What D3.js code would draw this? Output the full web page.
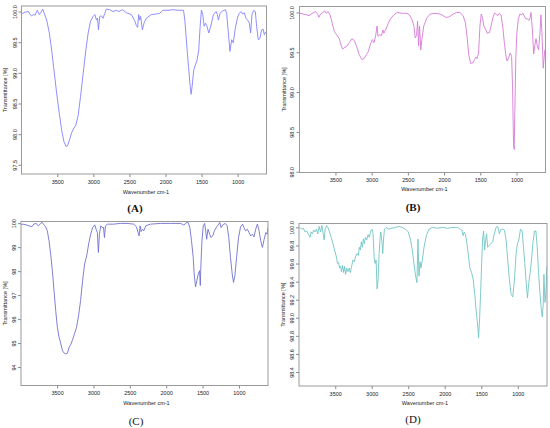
<!DOCTYPE html>
<html>
<head>
<meta charset="utf-8">
<script src="https://cdn.jsdelivr.net/npm/d3@7"></script>
<style>
  body { margin: 0; background: #fff; }
  svg text { font-family: "Liberation Sans", Arial, sans-serif; }
  svg text.caption { font-family: "Liberation Serif", "Times New Roman", serif; }
</style>
</head>
<body>
<div id="chart"></div>
<script>
// Spectrum data: wavenumber (cm-1) and transmittance (%)
var aWave = [3993,3947,3900,3877,3855,3831,3808,3776,3749,3730,3703,3680,3647,3610,3578,3546,3509,3472,3440,3408,3380,3357,3325,3302,3270,3242,3210,3178,3141,3104,3072,3040,3003,2980,2957,2943,2929,2911,2888,2865,2842,2819,2773,2727,2680,2644,2598,2542,2473,2427,2404,2386,2372,2358,2344,2321,2298,2266,2197,2128,2082,2036,1967,1898,1829,1750,1732,1704,1681,1658,1645,1631,1608,1585,1562,1539,1520,1502,1483,1465,1446,1428,1400,1368,1336,1299,1281,1267,1244,1207,1170,1152,1129,1106,1083,1060,1032,1000,977,954,931,908,884,861,838,820,801,778,755,737,714,691,668,645,631,610];
var aTrans = [99.96,99.99,100.0,99.95,99.93,99.95,99.94,100.02,99.95,99.98,100.04,99.97,99.86,99.65,99.37,99.05,98.67,98.34,98.07,97.88,97.80,97.81,97.93,98.02,98.10,98.15,98.31,98.61,98.99,99.37,99.65,99.84,99.92,99.95,99.86,99.89,99.70,99.92,99.93,99.89,99.97,100.04,100.03,100.0,100.02,100.0,100.03,99.98,99.95,99.85,99.77,99.74,99.95,99.86,99.92,99.70,99.81,99.89,99.95,99.96,99.97,100.02,100.02,100.03,100.02,100.02,99.86,99.43,99.10,98.78,98.65,98.78,99.05,99.13,99.21,99.37,99.76,100.02,99.95,99.76,99.81,99.77,99.65,99.78,99.95,100.0,99.95,99.86,99.97,100.01,100.03,99.97,99.65,99.35,99.54,99.49,99.73,99.91,99.97,100.0,99.96,99.98,99.89,99.86,99.81,99.65,99.95,100.02,100.0,99.76,99.54,99.56,99.70,99.71,99.62,99.67];

var bWave = [3990,3947,3901,3865,3820,3774,3747,3728,3706,3674,3646,3628,3601,3574,3546,3514,3483,3446,3419,3400,3378,3346,3309,3273,3241,3209,3172,3136,3104,3072,3045,3018,2990,2968,2944,2926,2913,2890,2863,2845,2831,2808,2772,2740,2694,2648,2580,2512,2480,2443,2416,2398,2380,2366,2352,2339,2321,2307,2280,2239,2193,2125,2056,2011,1979,1943,1906,1874,1829,1783,1738,1706,1683,1660,1633,1601,1578,1560,1546,1524,1505,1487,1469,1451,1428,1405,1373,1351,1328,1305,1278,1260,1237,1214,1191,1168,1146,1132,1109,1087,1068,1055,1041,1032,1023,1009,995,977,954,932,913,895,872,850,827,813,800,781,763,745,731,713,695,677,663,649,631,610];
var bTrans = [99.99,99.98,99.97,99.96,99.99,100.01,99.98,99.94,99.98,100.0,100.02,99.99,100.01,99.97,99.87,99.76,99.72,99.67,99.58,99.54,99.56,99.57,99.62,99.67,99.65,99.58,99.47,99.41,99.42,99.47,99.51,99.60,99.66,99.62,99.71,99.83,99.70,99.72,99.71,99.78,99.74,99.78,99.86,99.92,99.97,100.0,99.99,99.99,99.97,99.91,99.83,99.68,99.71,99.89,99.58,99.83,99.53,99.66,99.83,99.93,99.98,99.99,99.98,99.96,99.94,99.94,99.96,99.98,100.0,100.0,99.96,99.87,99.70,99.47,99.36,99.37,99.41,99.44,99.42,99.49,99.83,99.98,99.93,99.83,99.79,99.74,99.75,99.83,99.93,99.99,99.98,99.96,99.99,99.97,99.83,99.62,99.45,99.39,99.43,99.49,99.45,99.08,98.33,98.28,98.78,99.45,99.74,99.91,99.98,99.97,99.99,99.96,99.92,99.92,99.90,99.93,100.0,99.78,99.48,99.60,99.67,99.58,99.53,99.74,99.97,99.74,99.30,99.53];

var cWave = [3996,3971,3925,3879,3847,3819,3787,3759,3731,3708,3680,3657,3634,3611,3588,3565,3542,3519,3496,3473,3449,3426,3403,3380,3357,3334,3311,3287,3260,3232,3204,3177,3149,3121,3093,3066,3038,3010,2982,2964,2946,2932,2918,2899,2881,2862,2848,2835,2807,2724,2631,2539,2446,2409,2386,2372,2358,2345,2326,2308,2280,2215,2077,1938,1799,1762,1739,1721,1698,1675,1652,1628,1615,1596,1578,1559,1541,1531,1522,1508,1490,1471,1457,1443,1425,1402,1384,1360,1337,1305,1277,1263,1245,1222,1189,1162,1139,1116,1092,1074,1055,1032,1005,977,949,931,908,884,861,838,815,792,769,746,727,700,677,653,630,612,602];
var cTrans = [99.93,99.96,99.93,99.88,99.85,99.96,99.99,99.89,99.96,100.04,99.93,99.85,99.68,99.27,98.71,98.02,97.19,96.36,95.66,95.25,94.97,94.69,94.58,94.55,94.58,94.83,94.94,95.14,95.39,95.66,96.15,96.77,97.60,98.30,98.64,99.13,99.54,99.82,99.93,99.75,99.61,98.78,99.54,99.89,99.82,99.82,99.40,99.89,99.96,99.96,99.99,99.99,99.96,99.85,99.61,99.47,99.89,99.65,99.75,99.68,99.89,99.96,99.99,99.99,99.99,99.93,99.96,100.03,100.03,99.82,99.27,98.57,97.88,97.35,97.60,97.88,98.02,97.40,98.30,99.27,99.89,99.99,99.68,99.33,99.75,99.54,99.40,99.47,99.68,99.85,99.96,100.03,99.82,99.93,99.99,99.89,99.40,98.57,97.88,97.53,97.81,98.57,99.40,99.85,99.96,99.82,99.68,99.75,99.61,99.47,99.54,99.43,99.75,99.96,99.75,99.27,98.99,99.33,99.61,99.54,99.82];

var dWave = [3982,3959,3936,3913,3890,3867,3844,3830,3812,3794,3775,3757,3739,3720,3702,3683,3665,3651,3638,3619,3601,3578,3555,3532,3509,3486,3468,3454,3440,3427,3413,3399,3385,3372,3358,3344,3326,3307,3294,3275,3257,3239,3220,3202,3183,3170,3156,3142,3128,3115,3101,3087,3069,3050,3032,3014,2995,2982,2968,2954,2940,2927,2913,2899,2885,2876,2862,2849,2839,2826,2803,2766,2720,2674,2628,2583,2537,2500,2468,2445,2422,2399,2381,2367,2353,2339,2326,2307,2284,2252,2216,2170,2101,2032,1963,1894,1826,1789,1766,1748,1734,1720,1702,1679,1656,1633,1610,1587,1569,1550,1537,1523,1509,1495,1482,1468,1454,1440,1427,1413,1390,1367,1344,1321,1298,1275,1252,1229,1206,1183,1161,1138,1115,1092,1069,1046,1023,1005,986,963,940,922,904,885,867,849,830,812,794,771,752,734,716,697,679,665,651,642,628,615,601];
var dTrans = [100.0,99.98,99.99,99.95,99.96,99.92,99.89,99.95,99.93,99.97,99.95,99.98,99.93,100.01,99.95,100.02,99.93,99.86,99.98,100.02,100.0,99.95,99.89,99.82,99.75,99.68,99.60,99.61,99.55,99.57,99.51,99.58,99.50,99.57,99.48,99.55,99.51,99.55,99.50,99.57,99.64,99.62,99.68,99.71,99.69,99.78,99.75,99.84,99.78,99.87,99.82,99.89,99.86,99.92,99.89,99.96,99.98,99.93,99.68,99.60,99.64,99.32,99.42,99.71,99.89,99.95,99.86,99.71,99.86,99.98,100.0,99.98,99.99,100.0,100.01,100.0,99.98,99.95,99.86,99.75,99.60,99.46,99.39,99.87,99.46,99.62,99.55,99.64,99.78,99.91,99.98,100.0,99.99,100.0,99.99,100.0,100.0,99.98,99.97,99.91,99.95,99.93,99.86,99.71,99.55,99.50,99.42,99.24,99.07,98.92,98.78,98.99,99.28,99.60,99.87,99.96,99.75,99.86,99.93,99.78,99.80,99.82,99.84,99.93,100.0,100.01,99.93,99.98,99.98,99.97,99.87,99.64,99.42,99.26,99.23,99.42,99.71,99.82,99.86,99.98,99.96,99.78,99.60,99.39,99.22,99.39,99.50,99.64,99.82,99.96,99.96,99.78,99.50,99.28,99.10,99.01,99.16,99.48,99.17,99.28,99.57];

// Tick values
var xTicks = [3500, 3000, 2500, 2000, 1500, 1000];
var aYTicks = [97.5, 98.0, 98.5, 99.0, 99.5, 100.0];
var bYTicks = [98.0, 98.5, 99.0, 99.5, 100.0];
var cYTicks = [94, 95, 96, 97, 98, 99, 100];
var dYTicks = [98.4, 98.6, 98.8, 99.0, 99.2, 99.4, 99.6, 99.8, 100.0];

var xDomain = [3996, 600];

var svg = d3.select("#chart")
    .append("svg")
    .attr("width", 550)
    .attr("height", 428);

// one spectrum panel
function drawPanel(p) {
    var x = d3.scaleLinear().domain(xDomain).range([p.left, p.right]);
    var y = d3.scaleLinear().domain(p.yDomain).range([p.bottom, p.top]);
    var g = svg.append("g");

    var data = p.wave.map((w, i) => ({ w: w, t: p.trans[i] }));

    g.append("clipPath").attr("id", "clip" + p.name)
        .append("rect")
        .attr("x", p.left).attr("y", p.top)
        .attr("width", p.right - p.left).attr("height", p.bottom - p.top);

    g.append("path")
        .datum(data)
        .attr("clip-path", "url(#clip" + p.name + ")")
        .attr("fill", "none")
        .attr("stroke", p.color)
        .attr("stroke-width", 0.9)
        .attr("stroke-linejoin", "round")
        .attr("d", d3.line().x(d => x(d.w)).y(d => y(d.t)));

    // bottom axis
    var xAxis = g.append("g")
        .attr("transform", `translate(0, ${p.bottom})`)
        .call(d3.axisBottom(x).tickValues(xTicks).tickSize(3).tickPadding(3).tickFormat(d3.format("d")));
    xAxis.select(".domain").remove();
    xAxis.selectAll("line").attr("stroke", "#888");
    xAxis.selectAll("text").attr("font-size", "5.5px").attr("fill", "#222");

    // left axis with rotated labels
    var yAxis = g.append("g")
        .attr("transform", `translate(${p.left}, 0)`)
        .call(d3.axisLeft(y).tickValues(p.yTicks).tickSize(3).tickFormat(d3.format(p.yFormat)));
    yAxis.select(".domain").remove();
    yAxis.selectAll("line").attr("stroke", "#888");
    yAxis.selectAll("text")
        .attr("font-size", "5.5px")
        .attr("fill", "#222")
        .attr("text-anchor", "middle")
        .attr("dy", null)
        .attr("x", 0)
        .attr("transform", "translate(" + (-p.yLabelOff) + ",0) rotate(-90)")
        .attr("y", 2);

    // frame
    g.append("rect")
        .attr("x", p.left).attr("y", p.top)
        .attr("width", p.right - p.left).attr("height", p.bottom - p.top)
        .attr("fill", "none")
        .attr("stroke", "#9a9a9a")
        .attr("stroke-width", 1);

    g.append("text")
        .attr("x", (p.left + p.right) / 2 + 2)
        .attr("y", p.xTitleY)
        .attr("text-anchor", "middle")
        .attr("font-size", "5.5px")
        .attr("fill", "#222")
        .text("Wavenumber cm-1");

    g.append("text")
        .attr("transform", `translate(${p.yTitleX}, ${(p.top + p.bottom) / 2}) rotate(-90)`)
        .attr("text-anchor", "middle")
        .attr("font-size", "5.5px")
        .attr("fill", "#222")
        .text("Transmittance [%]");

    g.append("text")
        .classed("caption", true)
        .attr("x", p.capX)
        .attr("y", p.capY)
        .attr("text-anchor", "middle")
        .attr("font-weight", p.capBold ? "bold" : "normal")
        .attr("font-size", "11px")
        .attr("fill", "#111")
        .text(p.caption);
}

drawPanel({ name: "A", wave: aWave, trans: aTrans, yTicks: aYTicks, yFormat: ".1f",
    left: 21.5, right: 266.5, top: 6, bottom: 174, yDomain: [97.35, 100.09],
    color: "#8282ff", yLabelOff: 7, xTitleY: 194, yTitleX: 7,
    caption: "(A)", capX: 135, capY: 212, capBold: true });

drawPanel({ name: "B", wave: bWave, trans: bTrans, yTicks: bYTicks, yFormat: ".1f",
    left: 299.5, right: 545.5, top: 6.5, bottom: 172.5, yDomain: [97.99, 100.075],
    color: "#d67ad6", yLabelOff: 8, xTitleY: 190.5, yTitleX: 286,
    caption: "(B)", capX: 413, capY: 211, capBold: true });

drawPanel({ name: "C", wave: cWave, trans: cTrans, yTicks: cYTicks, yFormat: "d",
    left: 21, right: 268, top: 221.5, bottom: 385.5, yDomain: [93.23, 100.07],
    color: "#7070d0", yLabelOff: 7, xTitleY: 404.5, yTitleX: 7,
    caption: "(C)", capX: 136, capY: 425, capBold: false });

drawPanel({ name: "D", wave: dWave, trans: dTrans, yTicks: dYTicks, yFormat: ".1f",
    left: 299, right: 547, top: 223.5, bottom: 386, yDomain: [98.245, 100.043],
    color: "#72c4c4", yLabelOff: 7, xTitleY: 404.5, yTitleX: 285,
    caption: "(D)", capX: 413, capY: 423, capBold: false });
</script>
</body>
</html>
